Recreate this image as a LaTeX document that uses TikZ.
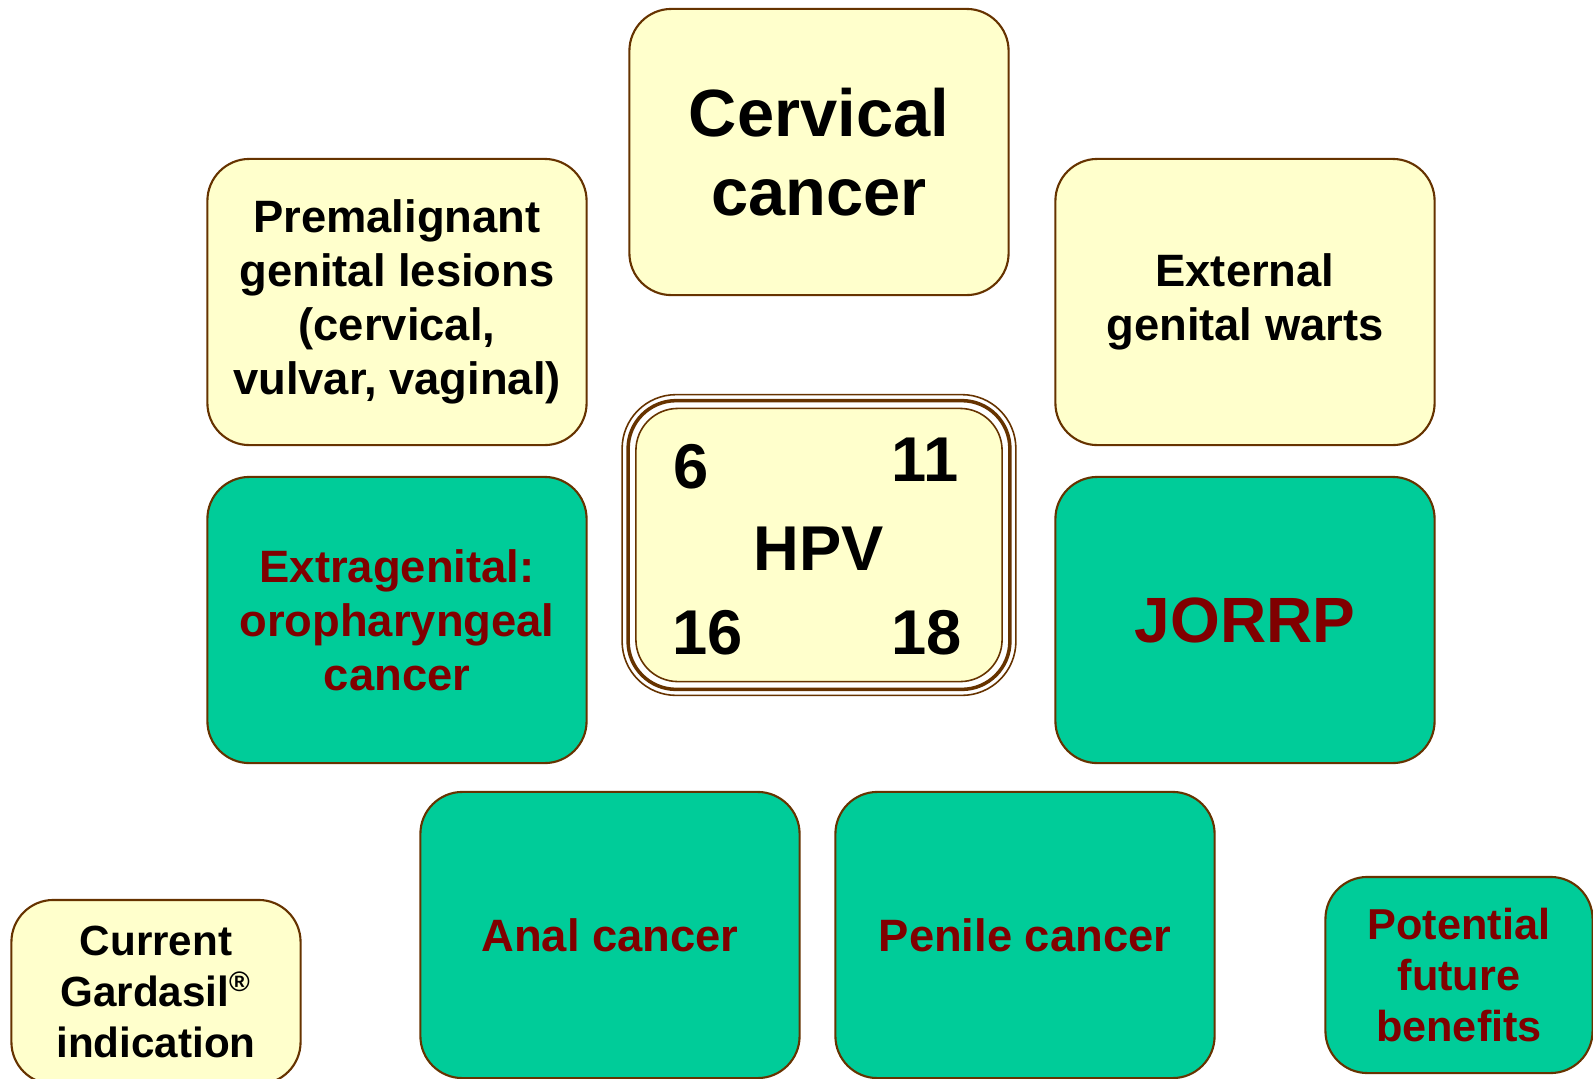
\documentclass[tikz,border=0pt]{standalone}
\usepackage{fontspec}
\setmainfont{Liberation Sans}
\usepackage{xcolor}
\usepackage{tikz}
\usetikzlibrary{positioning}
\definecolor{pale}{RGB}{255,255,204}
\definecolor{teal}{RGB}{0,204,153}
\definecolor{maroon}{RGB}{128,0,0}
\definecolor{rim}{RGB}{102,51,0}
\tikzset{
  box/.style={draw=rim,line width=.6pt,rounded corners=.42cm,align=center,
    minimum width=3.79cm,minimum height=2.86cm,inner sep=2pt},
  ybox/.style={box,fill=pale,text=black,font=\bfseries\fontsize{12.9}{15.4}\selectfont},
  gbox/.style={box,fill=teal,text=maroon,font=\bfseries\fontsize{12.9}{15.4}\selectfont},
  big/.style={font=\bfseries\fontsize{19}{22.5}\selectfont},
  num/.style={font=\bfseries\fontsize{18}{20}\selectfont}
}
\begin{document}
\begin{tikzpicture}[x=.01cm,y=-.01cm]
\useasboundingbox (0,0) rectangle (1593,1078);
\clip (0,0) rectangle (1593,1078);
% top row
\node[ybox,big] (cervical) at (819,152){Cervical\\cancer};
\node[ybox] (premalig) at (397,302){Premalignant\\genital lesions\\(cervical,\\vulvar, vaginal)};
\node[ybox] (warts) at (1245,302){External\\genital warts};
% middle
\node[gbox] (extragen) at (397,620){Extragenital:\\oropharyngeal\\cancer};
\node[gbox,font=\bfseries\fontsize{18.2}{22}\selectfont] (jorrp) at (1245,620){JORRP};
\node[draw=rim,fill=pale,line width=.45pt,rounded corners=.42cm,minimum width=3.66cm,minimum height=2.73cm] (hpv) at (819,545){};
\draw[rim,line width=1pt,rounded corners=.48cm] ([shift={(-7,-7)}]hpv.north west) rectangle ([shift={(7,7)}]hpv.south east);
\draw[rim,line width=.45pt,rounded corners=.54cm] ([shift={(-13,-13)}]hpv.north west) rectangle ([shift={(13,13)}]hpv.south east);
\node[num] (hpvlabel) at (819,549){HPV};
\node[num] (n6) at (691,467){6};
\node[num] (n11) at (925,460){11};
\node[num] (n16) at (708,633){16};
\node[num] (n18) at (927,633){18};
% bottom row
\node[gbox] (anal) at (610,935){Anal cancer};
\node[gbox] (penile) at (1025,935){Penile cancer};
\node[ybox,font=\bfseries\fontsize{12}{14.5}\selectfont,minimum width=2.89cm,minimum height=1.84cm] (current) at (156,992){Current\\Gardasil\textsuperscript{\textregistered}\\indication};
\node[gbox,font=\bfseries\fontsize{12.3}{14.5}\selectfont,minimum width=2.67cm,minimum height=1.96cm] (future) at (1459,975){Potential\\future\\benefits};
\end{tikzpicture}
\end{document}
